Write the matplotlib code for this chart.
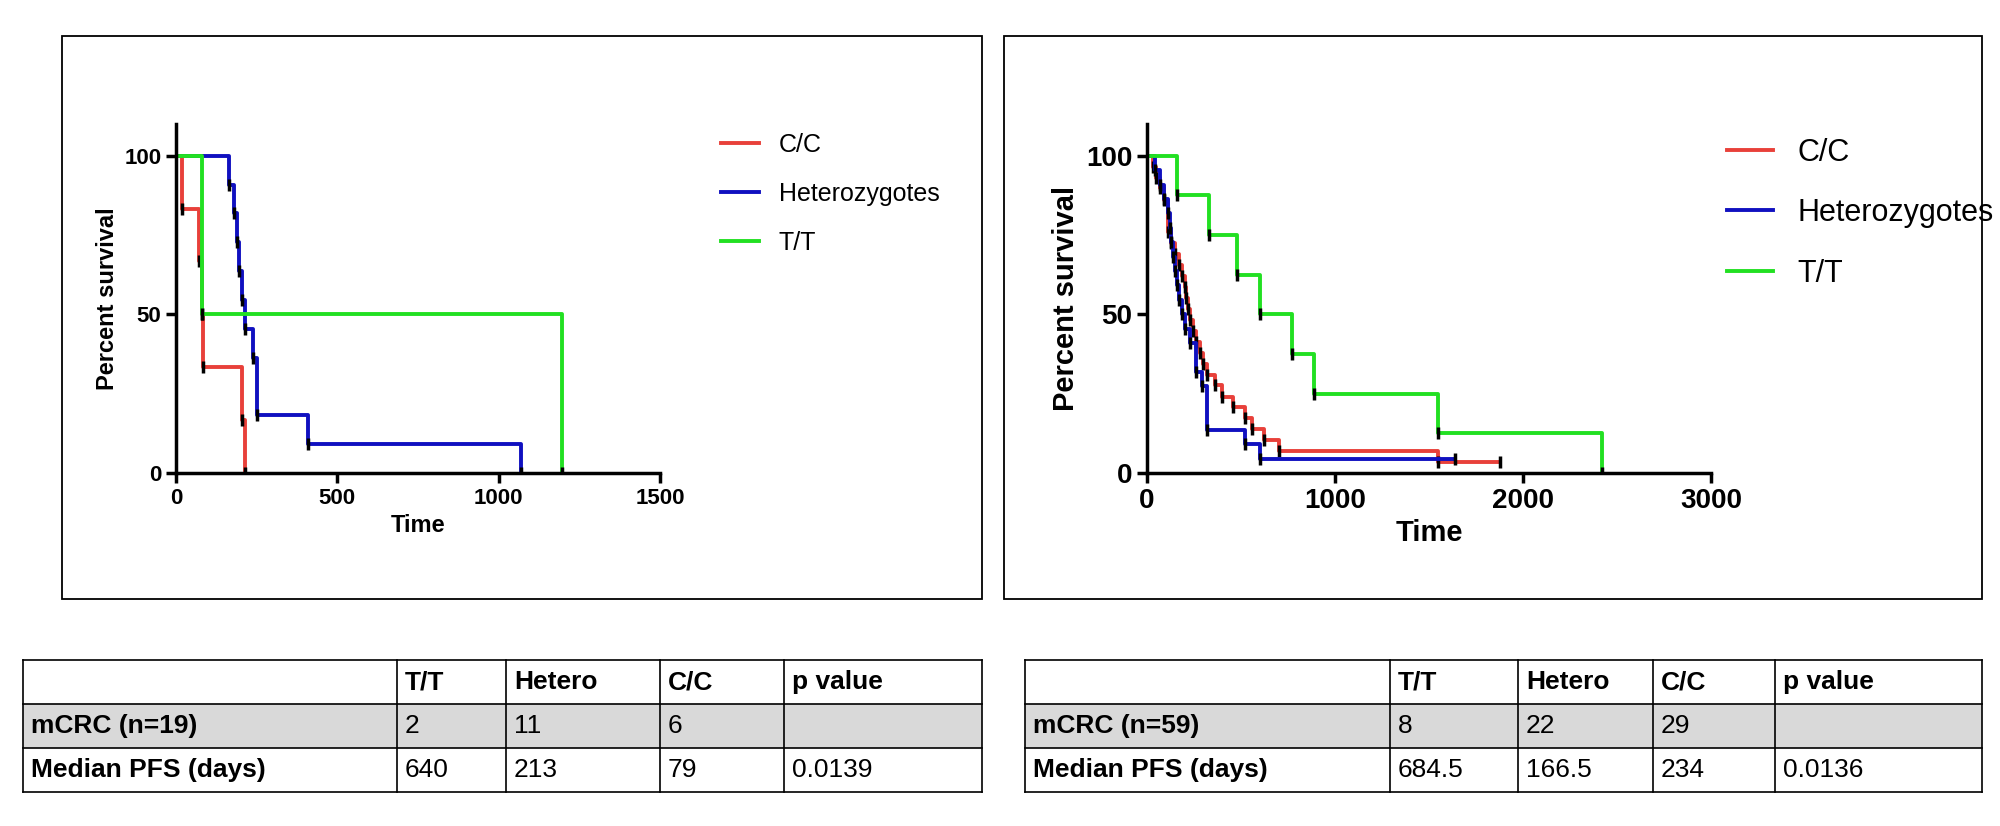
import matplotlib
matplotlib.use("Agg")
import matplotlib.pyplot as plt
from matplotlib.patches import Rectangle

plt.rcParams['font.family'] = ['Liberation Sans', 'DejaVu Sans']

# ---- Left panel data (n=19) ----
L_cc_t = [0, 20, 70, 80, 85, 205, 215]
L_cc_s = [100, 83.3, 66.7, 50, 33.3, 16.7, 0]
L_het_t = [0, 165, 180, 190, 195, 205, 215, 240, 250, 410, 1070]
L_het_s = [100, 90.9, 81.8, 72.7, 63.6, 54.5, 45.5, 36.4, 18.2, 9.1, 0]
L_tt_t = [0, 80, 1195]
L_tt_s = [100, 50, 0]

# ---- Right panel data (n=59) ----
R_tt_t = [0, 160, 330, 480, 600, 770, 890, 1550, 2420]
R_tt_s = [100, 87.5, 75, 62.5, 50, 37.5, 25, 12.5, 0]
R_het_t = [0, 40, 70, 90, 110, 120, 130, 140, 150, 160, 170, 185, 200, 230, 260, 290, 320, 520, 600, 1640]
R_het_s = [100, 95.5, 90.9, 86.4, 81.8, 77.3, 72.7, 68.2, 63.6, 59.1, 54.5, 50, 45.5, 40.9, 31.8, 27.3, 13.6, 9.1, 4.5, 4.5]
R_cc_t = [0, 30, 50, 70, 90, 110, 130, 150, 170, 185, 200, 210, 220, 230, 245, 260, 280, 300, 320, 360, 400, 460, 520, 560, 620, 700, 1550, 1880]
R_cc_s = [100, 96.6, 93.1, 89.7, 86.2, 75.9, 72.4, 69.0, 65.5, 62.1, 58.6, 55.2, 51.7, 48.3, 44.8, 41.4, 37.9, 34.5, 31.0, 27.6, 24.1, 20.7, 17.2, 13.8, 10.3, 6.9, 3.4, 3.4]

legend_labels = ['C/C', 'Heterozygotes', 'T/T']
colors = ['#e8403a', '#1010c0', '#22e022']

table_header = ['', 'T/T', 'Hetero', 'C/C', 'p value']
L_row1 = ['mCRC (n=19)', '2', '11', '6', '']
L_row2 = ['Median PFS (days)', '640', '213', '79', '0.0139']
R_row1 = ['mCRC (n=59)', '8', '22', '29', '']
R_row2 = ['Median PFS (days)', '684.5', '166.5', '234', '0.0136']

W, H = 2000, 826
fig = plt.figure(figsize=(20, 8.26), dpi=100)

def fx(x): return x / W
def fy(y): return 1 - y / H

def box(x0, y0, x1, y1):
    fig.add_artist(Rectangle((fx(x0), fy(y1)), fx(x1) - fx(x0), fy(y0) - fy(y1),
                             fill=False, lw=1.3, ec='black', transform=fig.transFigure))

def km(ax, t, s, c, lab):
    ax.step(t, s, where='post', color=c, lw=2.8, label=lab)
    ax.plot(t[1:], s[1:], ls='none', marker='|', ms=8, mew=2.5, color='black')

def panel(x0, y0, x1, y1, xmax, xticks, curves, leg_pos, fs):
    ax = fig.add_axes([fx(x0), fy(y1), fx(x1) - fx(x0), fy(y0) - fy(y1)])
    for (t, s), c, lab in zip(curves, colors, legend_labels):
        km(ax, t, s, c, lab)
    ax.set_xlim(0, xmax)
    ax.set_ylim(0, 110)
    ax.set_xticks(xticks)
    ax.set_yticks([0, 50, 100])
    for sp in ['top', 'right']:
        ax.spines[sp].set_visible(False)
    ax.spines['left'].set_linewidth(2.5)
    ax.spines['bottom'].set_linewidth(2.5)
    ax.tick_params(width=2.5, length=7, labelsize=fs)
    for l in ax.get_xticklabels() + ax.get_yticklabels():
        l.set_fontweight('bold')
    ax.set_xlabel('Time', fontsize=fs + 1, fontweight='bold')
    ax.set_ylabel('Percent survival', fontsize=fs + 1, fontweight='bold')
    ax.legend(loc='upper left', bbox_to_anchor=leg_pos, frameon=False,
              fontsize=fs + 2, handlelength=1.5, labelspacing=1.0)
    return ax

box(62, 36, 982, 599)
panel(176, 124, 660, 473, 1500, [0, 500, 1000, 1500],
      [(L_cc_t, L_cc_s), (L_het_t, L_het_s), (L_tt_t, L_tt_s)], (1.08, 1.04), 16)
box(1004, 36, 1982, 599)
panel(1147, 124, 1711, 473, 3000, [0, 1000, 2000, 3000],
      [(R_cc_t, R_cc_s), (R_het_t, R_het_s), (R_tt_t, R_tt_s)], (0.98, 1.04), 20)

def table(cols, top, rows):
    rh = 44
    for i, row in enumerate(rows):
        y0 = top + i * rh
        if i == 1:
            fig.add_artist(Rectangle((fx(cols[0]), fy(y0 + rh)), fx(cols[-1]) - fx(cols[0]),
                                     fy(y0) - fy(y0 + rh), fc='#d9d9d9', ec='none',
                                     transform=fig.transFigure))
        for j, txt in enumerate(row):
            fig.text(fx(cols[j] + 8), fy(y0 + rh / 2), txt, va='center', ha='left',
                     fontsize=19, fontweight='bold' if (j == 0 or i == 0) else 'normal')
    for i in range(len(rows) + 1):
        fig.add_artist(plt.Line2D([fx(cols[0]), fx(cols[-1])], [fy(top + i * rh)] * 2,
                                  color='black', lw=1.2, transform=fig.transFigure))
    for c in cols:
        fig.add_artist(plt.Line2D([fx(c)] * 2, [fy(top), fy(top + len(rows) * rh)],
                                  color='black', lw=1.2, transform=fig.transFigure))

table([23, 397, 506, 660, 784, 982], 660, [table_header, L_row1, L_row2])
table([1025, 1390, 1518, 1653, 1775, 1982], 660, [table_header, R_row1, R_row2])

fig.savefig('out.png', dpi=100, facecolor='white')
